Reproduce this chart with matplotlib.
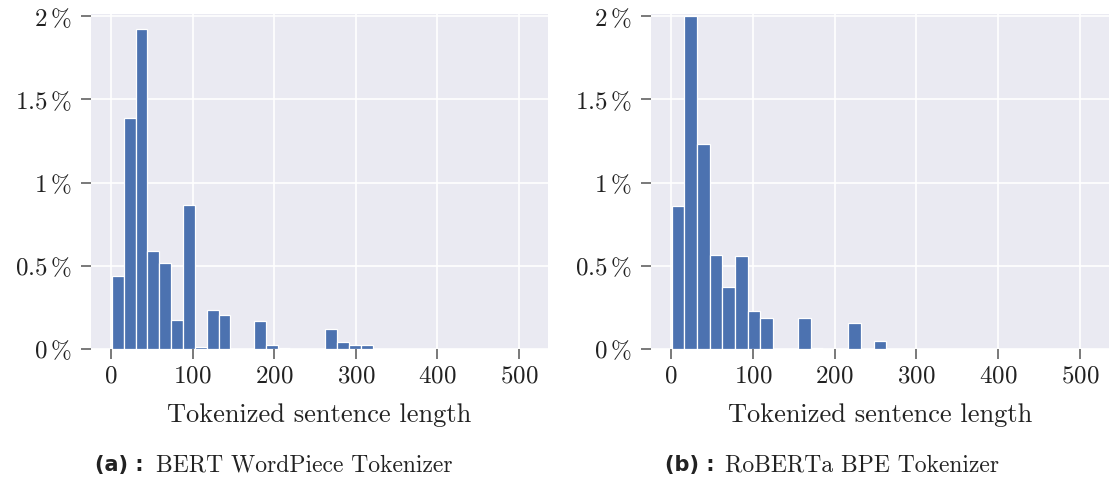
import numpy as np
import matplotlib
matplotlib.use("Agg")
import matplotlib.pyplot as plt
from matplotlib.ticker import FuncFormatter

# ---- data (percent of sentences per length bin) ----
range_min, range_max = 1, 510
bert_pct = [0.441, 1.390, 1.921, 0.592, 0.517, 0.176, 0.864, 0.014, 0.235, 0.203,
            0.0, 0.0, 0.170, 0.024, 0.008, 0.0, 0.0, 0.0, 0.122, 0.042,
            0.026, 0.024, 0.0, 0.0, 0.0, 0.0, 0.0, 0.0, 0.0, 0.0,
            0.0, 0.0, 0.0, 0.0, 0.0]
roberta_pct = [0.860, 2.002, 1.231, 0.564, 0.373, 0.558, 0.227, 0.187, 0.0, 0.0,
               0.185, 0.008, 0.0, 0.0, 0.156, 0.0, 0.050, 0.0, 0.0, 0.0,
               0.0, 0.0, 0.0, 0.0, 0.0, 0.0, 0.0, 0.0, 0.0, 0.0,
               0.0, 0.0, 0.0]
x_label = "Tokenized sentence length"
captions = [("(a) :", "BERT WordPiece Tokenizer"), ("(b) :", "RoBERTa BPE Tokenizer")]
y_ticks = [0, 0.5, 1, 1.5, 2]
x_ticks = [0, 100, 200, 300, 400, 500]

plt.rcParams["font.family"] = "cmr10"
plt.rcParams["mathtext.fontset"] = "cm"
plt.rcParams["axes.unicode_minus"] = False

W, H = 1110, 482
fig = plt.figure(figsize=(W / 100, H / 100), dpi=100)

axes_px = [(91, 457), (651, 458)]
top_px, bot_px = 14.3, 349
bar_color = "#4C72B0"

def pct_fmt(v, pos):
    return r"$%g\,\%%$" % v

for i, (data, (xl, wpx)) in enumerate(zip([bert_pct, roberta_pct], axes_px)):
    ax = fig.add_axes([xl / W, (H - bot_px) / H, wpx / W, (bot_px - top_px) / H])
    ax.set_facecolor("#EAEAF2")
    for s in ax.spines.values():
        s.set_visible(False)
    ax.set_axisbelow(True)
    ax.grid(True, color="white", linewidth=1.2)
    edges = np.linspace(range_min, range_max, len(data) + 1)
    ax.bar(edges[:-1], data, width=np.diff(edges), align="edge",
           color=bar_color, edgecolor="white", linewidth=0.9)
    span = range_max - range_min
    ax.set_xlim(range_min - 0.05 * span, range_max + 0.05 * span)
    ax.set_ylim(0, 2.012)
    ax.set_xticks(x_ticks)
    ax.set_yticks(y_ticks)
    ax.yaxis.set_major_formatter(FuncFormatter(pct_fmt))
    ax.xaxis.set_major_formatter(FuncFormatter(lambda v, p: r"$%d$" % v))
    ax.tick_params(axis="both", direction="out", length=7, width=1.1,
                   color="#555555", labelsize=18, labelcolor="#222222")
    ax.tick_params(axis="y", pad=7)
    ax.tick_params(axis="x", pad=5)
    ax.set_xlabel(x_label, fontsize=19, color="#222222", labelpad=11)

    lab_bold, lab_txt = captions[i]
    x0 = [95.0, 665.0][i]
    x1 = [155.5, 725.0][i]
    fig.text(x0 / W, 1 - 465 / H, lab_bold, family="DejaVu Sans", weight="bold",
             fontsize=15, va="center", ha="left", color="#222222")
    fig.text(x1 / W, 1 - 465 / H, lab_txt, fontsize=17, va="center", ha="left",
             color="#222222")

fig.savefig("out.png", dpi=100)
